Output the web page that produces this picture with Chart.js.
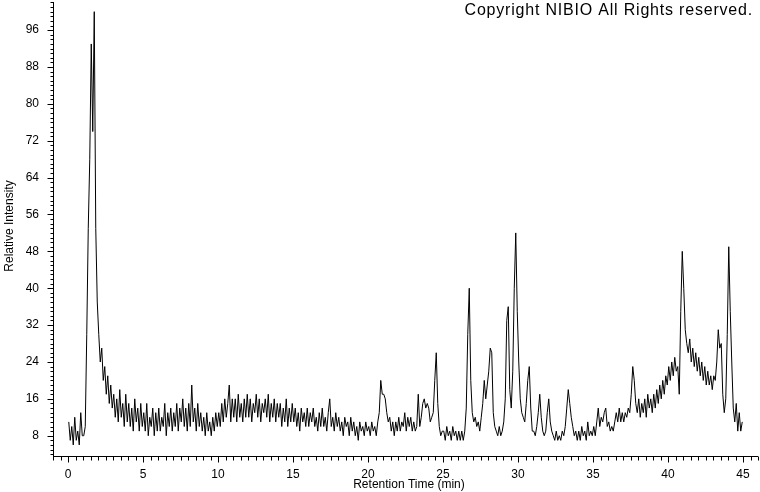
<!DOCTYPE html>
<html>
<head>
<meta charset="utf-8">
<title>Chromatogram</title>
<script src="https://cdn.jsdelivr.net/npm/chart.js@4.4.1/dist/chart.umd.min.js"></script>
<style>
  html, body { margin: 0; padding: 0; background: #fff; }
  canvas { display: block; }
</style>
</head>
<body>
<canvas id="chart" width="760" height="492"></canvas>
<script>
// retention time grid (min) of the trace samples
const T_START = 0.05;
const T_STEP = 0.1;

// relative intensity, one row per minute (10 samples each)
const intensity = [
  11, 7, 10, 6, 12, 7, 9, 6, 13, 8,
  8, 10, 30, 53, 68, 93, 74, 100, 53, 37,
  30, 24, 27, 20, 23, 17, 21, 15, 19, 14,
  17, 12, 16, 11, 18, 12, 15, 10, 17, 11,
  15, 10, 14, 9, 16, 11, 14, 9, 15, 10,
  13, 9, 15, 8, 12, 10, 14, 8, 13, 9,
  14, 9, 12, 10, 15, 8, 13, 10, 14, 9,
  13, 10, 15, 9, 14, 11, 16, 10, 14, 9,
  15, 10, 19, 11, 14, 9, 15, 10, 13, 9,
  12, 8, 13, 9, 11, 8, 12, 9, 13, 10,
  13, 10, 15, 11, 16, 12, 15, 19, 11, 16,
  12, 16, 11, 17, 12, 15, 11, 16, 12, 17,
  12, 16, 11, 15, 13, 17, 12, 16, 11, 15,
  13, 16, 12, 17, 11, 15, 12, 16, 11, 15,
  12, 15, 10, 14, 11, 16, 10, 14, 11, 15,
  11, 14, 10, 13, 9, 14, 11, 13, 10, 14,
  10, 13, 11, 14, 10, 12, 9, 13, 10, 14,
  10, 12, 9, 13, 16, 10, 12, 9, 13, 10,
  12, 9, 11, 8, 12, 10, 11, 8, 12, 9,
  11, 8, 10, 7, 11, 9, 10, 8, 11, 9,
  10, 8, 11, 9, 10, 8, 11, 13, 20, 17,
  17, 16, 13, 11, 12, 9, 11, 8, 11, 9,
  12, 9, 11, 10, 13, 9, 12, 10, 12, 9,
  11, 9, 10, 17, 10, 12, 15, 16, 14, 15,
  14, 11, 12, 13, 20, 26, 15, 10, 8, 9,
  9, 7, 10, 8, 9, 7, 10, 8, 9, 7,
  9, 7, 9, 7, 9, 14, 30, 40, 20, 13,
  11, 12, 10, 11, 9, 12, 15, 20, 16, 19,
  22, 27, 26, 13, 10, 9, 8, 10, 8, 9,
  11, 16, 33, 36, 18, 14, 22, 40, 52, 35,
  24, 16, 13, 12, 11, 15, 20, 23, 14, 9,
  9, 8, 10, 13, 17, 12, 9, 8, 9, 13,
  16, 11, 9, 8, 7, 9, 7, 8, 7, 9,
  8, 10, 14, 18, 15, 12, 10, 8, 9, 7,
  9, 7, 10, 8, 9, 7, 11, 8, 9, 8,
  10, 8, 11, 14, 10, 12, 11, 13, 14, 10,
  11, 9, 10, 9, 11, 13, 11, 14, 11, 13,
  11, 13, 12, 14, 13, 17, 23, 20, 15, 13,
  16, 12, 15, 13, 16, 12, 17, 14, 16, 13,
  17, 14, 18, 15, 19, 16, 20, 17, 21, 19,
  23, 20, 24, 21, 25, 22, 23, 17, 35, 48,
  40, 31, 28, 26, 29, 24, 27, 23, 26, 22,
  25, 21, 24, 20, 23, 19, 22, 19, 21, 18,
  21, 20, 24, 31, 27, 28, 17, 13, 16, 30,
  49, 35, 24, 14, 11, 15, 9, 13, 9, 11
];

const xTicks = [0, 5, 10, 15, 20, 25, 30, 35, 40, 45];
const yTicks = [8, 16, 24, 32, 40, 48, 56, 64, 72, 80, 88, 96];

const X_MIN = -1, X_MAX = 46;
const Y_MIN = 3.6, Y_MAX = 102.1;

const FONT = '"Liberation Sans", Arial, sans-serif';

const points = intensity.map((v, i) => ({ x: +(T_START + i * T_STEP).toFixed(2), y: v }));

// axis lines, major/minor tick marks, axis titles and the copyright line
const decorations = {
  id: 'decorations',
  afterDraw(chart) {
    const { ctx, chartArea: a, scales: { x, y } } = chart;
    const ax = a.left + 0.5;
    const ay = a.bottom + 0.5;
    ctx.save();
    ctx.strokeStyle = '#000';
    ctx.lineWidth = 1;
    ctx.beginPath();
    ctx.moveTo(ax, a.top);
    ctx.lineTo(ax, a.bottom + 1);
    ctx.moveTo(a.left, ay);
    ctx.lineTo(a.right, ay);
    for (let v = Math.ceil(Y_MIN); v <= Y_MAX; v++) {
      const py = Math.round(y.getPixelForValue(v)) + 0.5;
      const len = v % 8 === 0 ? 6 : 3;
      ctx.moveTo(ax - len, py);
      ctx.lineTo(ax, py);
    }
    for (let v = X_MIN; v <= X_MAX; v += 0.5) {
      const px = Math.round(x.getPixelForValue(v)) + 0.5;
      const len = v % 5 === 0 ? 6 : 4;
      ctx.moveTo(px, ay);
      ctx.lineTo(px, ay + len);
    }
    ctx.stroke();

    ctx.fillStyle = '#000';
    ctx.font = '12px ' + FONT;
    ctx.textAlign = 'center';
    ctx.textBaseline = 'middle';
    ctx.fillText('Retention Time (min)', 409, 485);

    ctx.save();
    ctx.translate(10, 226);
    ctx.rotate(-Math.PI / 2);
    ctx.fillText('Relative Intensity', 0, 0);
    ctx.restore();

    ctx.font = '16px ' + FONT;
    ctx.textAlign = 'right';
    ctx.textBaseline = 'alphabetic';
    ctx.letterSpacing = '0.8px';
    ctx.fillText('Copyright NIBIO All Rights reserved.', 753, 15);
    ctx.restore();
  }
};

new Chart(document.getElementById('chart'), {
  type: 'line',
  data: {
    datasets: [{
      data: points,
      borderColor: '#000',
      borderWidth: 1,
      pointRadius: 0,
      tension: 0,
      fill: false
    }]
  },
  options: {
    responsive: false,
    animation: false,
    devicePixelRatio: 1,
    layout: { padding: { top: 2, right: 2, left: 0, bottom: 0 } },
    plugins: {
      legend: { display: false },
      tooltip: { enabled: false },
      title: { display: false }
    },
    scales: {
      x: {
        type: 'linear',
        min: X_MIN,
        max: X_MAX,
        afterBuildTicks: s => { s.ticks = xTicks.map(v => ({ value: v })); },
        afterFit: s => {
          s.height = 36;
          s.paddingLeft = 0; s.paddingRight = 0; s.paddingTop = 0; s.paddingBottom = 0;
        },
        grid: { display: false, drawTicks: false },
        border: { display: false },
        ticks: {
          autoSkip: false,
          maxRotation: 0,
          padding: 11,
          color: '#000',
          font: { family: FONT, size: 12 }
        }
      },
      y: {
        type: 'linear',
        min: Y_MIN,
        max: Y_MAX,
        afterBuildTicks: s => { s.ticks = yTicks.map(v => ({ value: v })); },
        afterFit: s => {
          s.width = 53;
          s.paddingLeft = 0; s.paddingRight = 0; s.paddingTop = 0; s.paddingBottom = 0;
        },
        grid: { display: false, drawTicks: false },
        border: { display: false },
        ticks: {
          autoSkip: false,
          padding: 14,
          color: '#000',
          font: { family: FONT, size: 12 }
        }
      }
    }
  },
  plugins: [decorations]
});
</script>
</body>
</html>
